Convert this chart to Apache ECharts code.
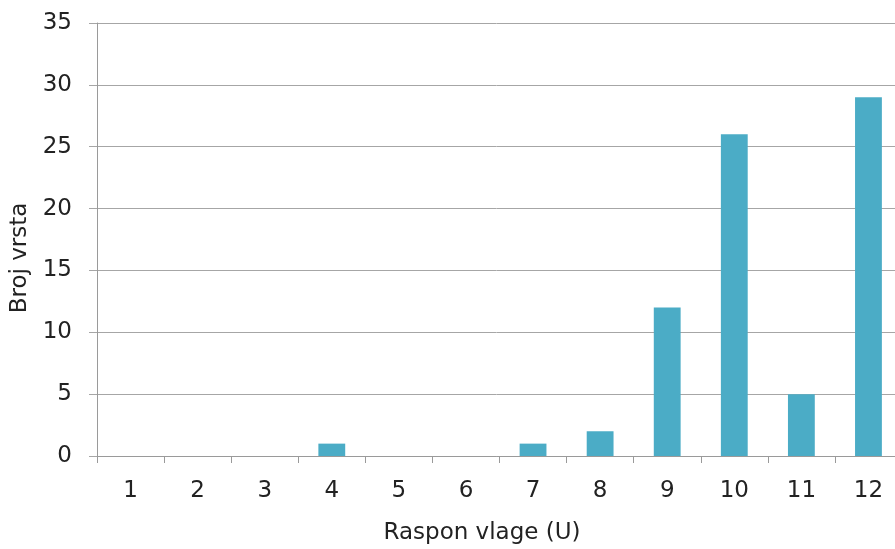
<!DOCTYPE html>
<html>
<head>
<meta charset="utf-8">
<script src="https://cdn.jsdelivr.net/npm/echarts@6/dist/echarts.min.js"></script>
<style>
html,body{margin:0;padding:0;background:#fff;}
#chart{width:895px;height:549px;}
</style>
</head>
<body>
<div id="chart"></div>
<script>
const categories = ['1','2','3','4','5','6','7','8','9','10','11','12'];
const values = [0, 0, 0, 1, 0, 0, 1, 2, 12, 26, 5, 29];
const xTitle = 'Raspon vlage (U)';
const yTitle = 'Broj vrsta';

const chart = echarts.init(document.getElementById('chart'), null, {renderer: 'canvas'});
const font = 'DejaVu Sans';
const txt = '#222222';
chart.setOption({
  animation: false,
  backgroundColor: '#ffffff',
  grid: {left: 97, top: 23, width: 805, height: 433, containLabel: false, outerBoundsMode: 'none'},
  xAxis: {
    type: 'category',
    data: categories,
    name: xTitle,
    nameLocation: 'middle',
    nameGap: 66,
    nameTextStyle: {fontFamily: font, fontSize: 23, color: txt, padding: [0, 35, 0, 0]},
    axisLine: {show: true, lineStyle: {color: '#9a9a9a', width: 1}},
    axisTick: {show: true, alignWithLabel: false, length: 7, lineStyle: {color: '#9a9a9a'}},
    axisLabel: {fontFamily: font, fontSize: 23, color: txt, margin: 24},
    splitLine: {show: false}
  },
  yAxis: {
    type: 'value',
    min: 0, max: 35, interval: 5,
    name: yTitle,
    nameLocation: 'middle',
    nameGap: 65,
    nameRotate: 90,
    nameTextStyle: {fontFamily: font, fontSize: 23, color: txt, padding: [0, 37, 0, 0]},
    axisLine: {show: true, lineStyle: {color: '#9a9a9a', width: 1}},
    axisTick: {show: true, length: 8, lineStyle: {color: '#a6a6a6'}},
    axisLabel: {fontFamily: font, fontSize: 23, color: txt, margin: 25},
    splitLine: {show: true, lineStyle: {color: '#a6a6a6', width: 1}}
  },
  series: [{
    type: 'bar',
    data: values,
    barWidth: '40%',
    itemStyle: {color: '#4bacc6'}
  }]
});
</script>
</body>
</html>
